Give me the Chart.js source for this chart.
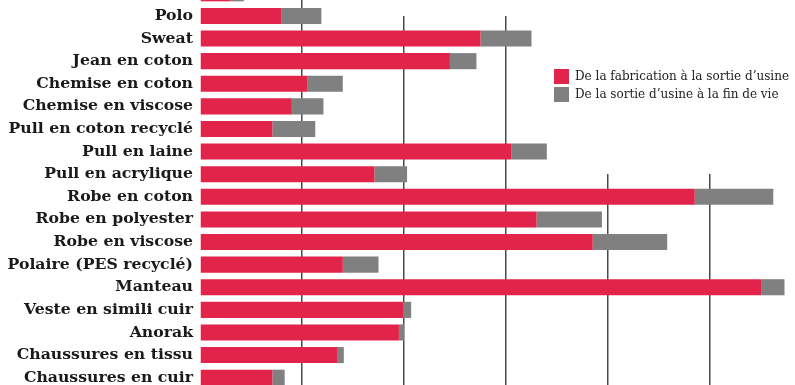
<!DOCTYPE html>
<html>
<head>
<meta charset="utf-8">
<script src="https://cdn.jsdelivr.net/npm/chart.js@4/dist/chart.umd.min.js"></script>
<style>
  html, body { margin: 0; padding: 0; background: #fff; overflow: hidden; }
  body { width: 795px; height: 385px; position: relative; }
  #wrap { position: absolute; left: 0; top: -18px; width: 795px; height: 407px; }
  #legend { position: absolute; left: 554px; top: 67px; font-family: "DejaVu Serif", serif; font-size: 12px; color: #222; }
  #legend div { display: flex; align-items: center; height: 18px; }
  #legend span.box { display: inline-block; width: 15px; height: 15px; margin-right: 6px; }
</style>
</head>
<body>
<div id="wrap"><canvas id="chart"></canvas></div>
<div id="legend"></div>
<script>
var items = ["T-shirt en polyester", "Polo", "Sweat", "Jean en coton", "Chemise en coton", "Chemise en viscose",
  "Pull en coton recyclé", "Pull en laine", "Pull en acrylique", "Robe en coton", "Robe en polyester",
  "Robe en viscose", "Polaire (PES recyclé)", "Manteau", "Veste en simili cuir", "Anorak",
  "Chaussures en tissu", "Chaussures en cuir"]
var fabrication = [3.0, 8.0, 27.5, 24.5, 10.5, 9.0, 7.1, 30.5, 17.1, 48.5, 33.0, 38.5, 14.0, 55.0, 19.9, 19.5, 13.5, 7.1]
var finDeVie = [1.3, 3.9, 5.0, 2.6, 3.5, 3.1, 4.2, 3.5, 3.2, 7.7, 6.4, 7.3, 3.5, 2.3, 0.8, 0.5, 0.6, 1.2]
var seriesNames = ["De la fabrication à la sortie d’usine", "De la sortie d’usine à la fin de vie"]
var colors = ["#e2234a", "#808080"]

// white area behind the legend hides the top of the grid lines
var gridMask = {
  id: "gridMask",
  beforeDatasetsDraw: function (chart) {
    var c = chart.ctx
    c.save()
    c.fillStyle = "#fff"
    c.fillRect(350, 0, 445, 34)
    c.fillRect(560, 0, 235, 192)
    c.restore()
  }
}

var ctx = document.getElementById("chart")
var chart = new Chart(ctx, {
  type: "bar",
  data: {
    labels: items,
    datasets: [
      { label: seriesNames[0], data: fabrication, backgroundColor: colors[0] },
      { label: seriesNames[1], data: finDeVie, backgroundColor: colors[1] }
    ]
  },
  options: {
    indexAxis: "y",
    responsive: true,
    maintainAspectRatio: false,
    animation: false,
    layout: { padding: 0 },
    datasets: { bar: { categoryPercentage: 1, barPercentage: 0.71 } },
    plugins: { legend: { display: false }, tooltip: { enabled: false } },
    scales: {
      x: {
        stacked: true,
        min: 0,
        max: 58.33,
        ticks: { display: false, stepSize: 10 },
        border: { display: false },
        grid: {
          drawTicks: false,
          lineWidth: 1.5,
          color: function (c) {
            var v = c.tick ? c.tick.value : 0
            return (v === 0 || v % 10 !== 0) ? "rgba(0,0,0,0)" : "#4a4a4a"
          }
        },
        afterFit: function (s) { s.height = 0; s.paddingLeft = 0; s.paddingRight = 0 }
      },
      y: {
        stacked: true,
        grid: { display: false, drawTicks: false },
        border: { display: false },
        ticks: {
          padding: 7,
          color: "#1a1a1a",
          font: { family: "DejaVu Serif", size: 15.7, weight: "bold" }
        },
        afterFit: function (s) { s.width = 200; s.paddingTop = 0; s.paddingBottom = 0 }
      }
    }
  },
  plugins: [gridMask]
})

var lg = document.getElementById("legend")
seriesNames.forEach(function (n, i) {
  var row = document.createElement("div")
  var box = document.createElement("span")
  box.className = "box"
  box.style.background = colors[i]
  row.appendChild(box)
  row.appendChild(document.createTextNode(n))
  lg.appendChild(row)
})
</script>
</body>
</html>
